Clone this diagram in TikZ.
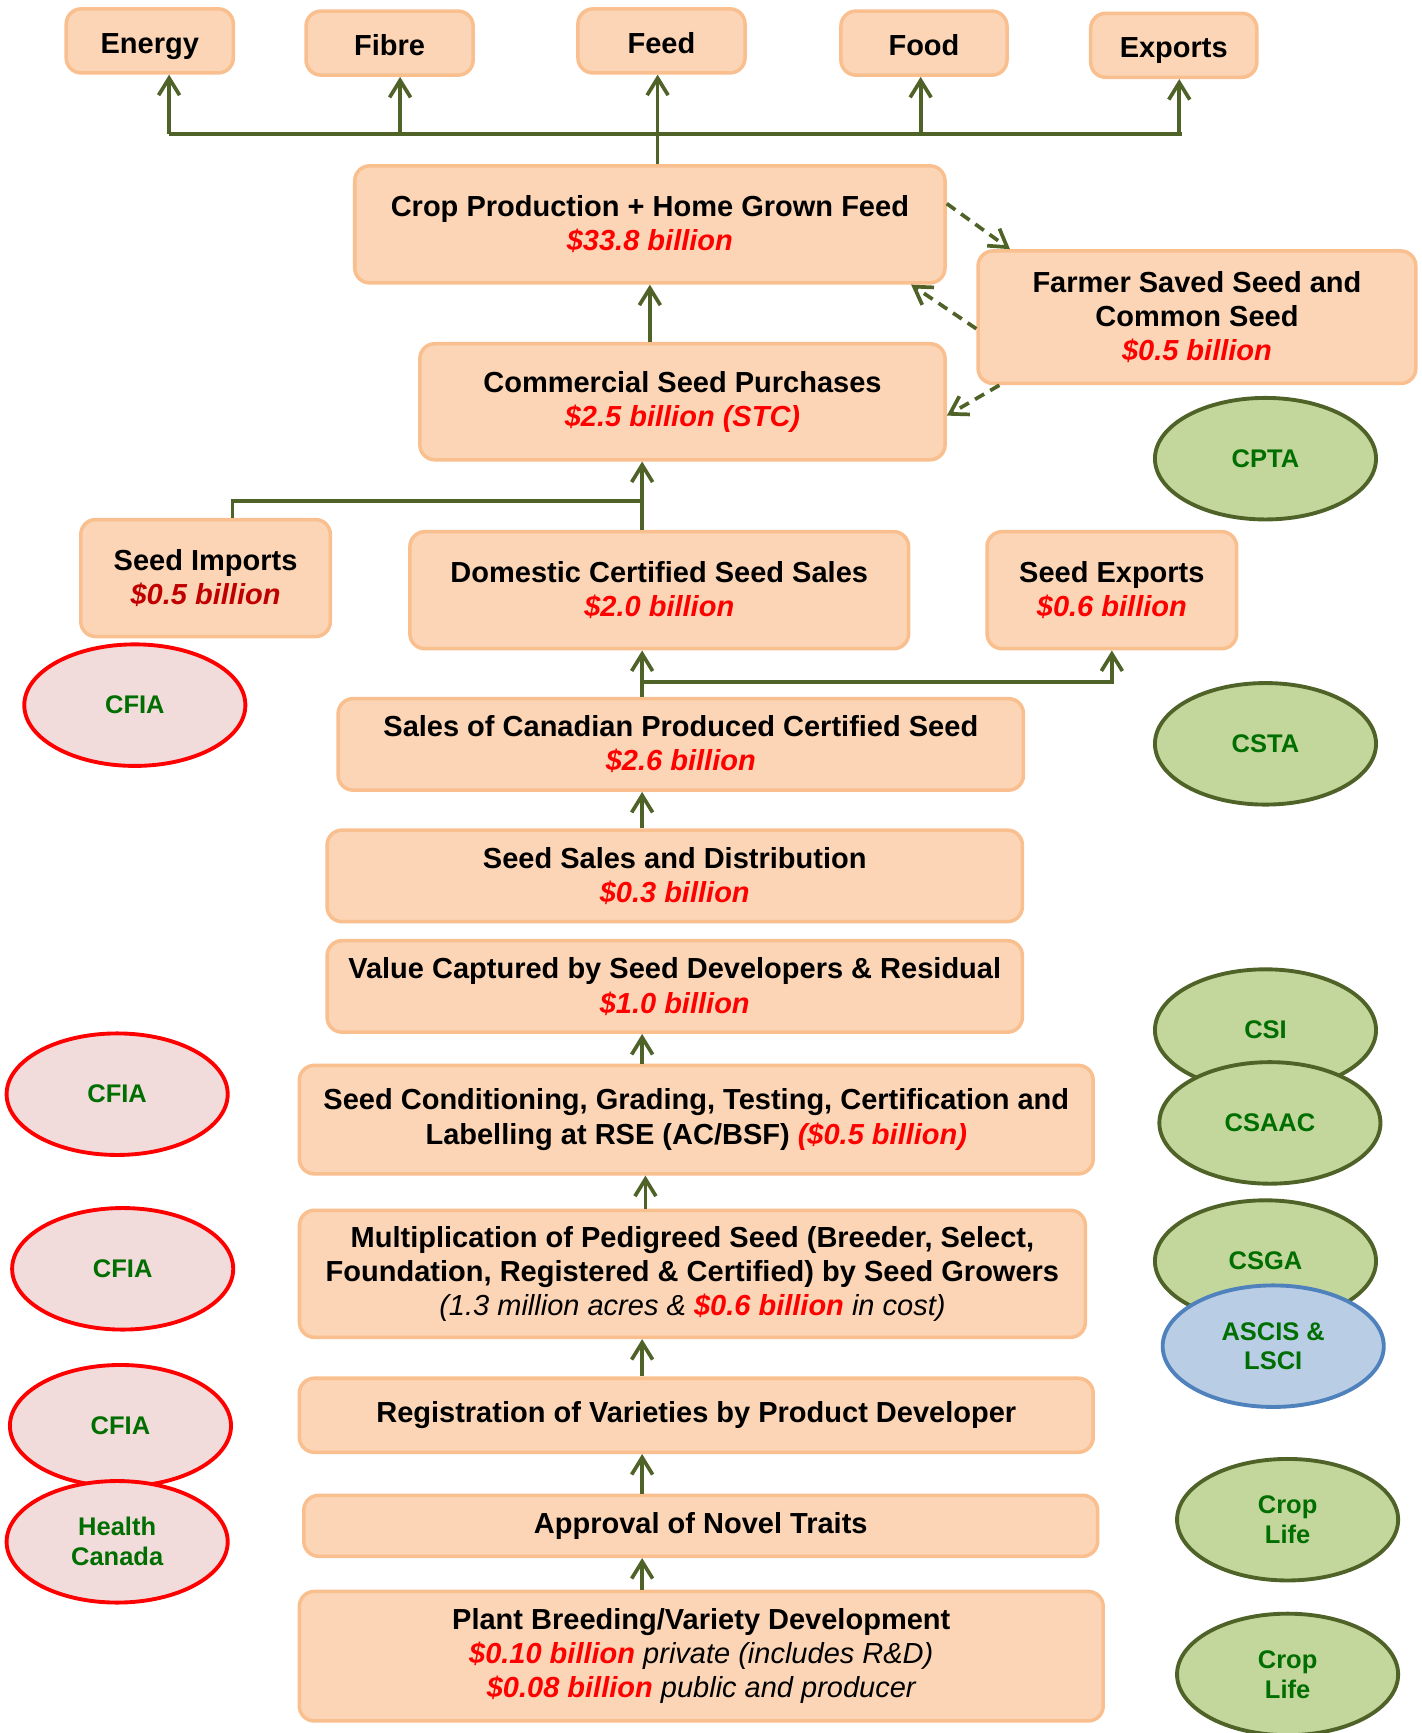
\documentclass[tikz,border=0pt]{standalone}
\usepackage{fontspec}
\setmainfont{Liberation Sans}
\usetikzlibrary{shapes.geometric,arrows.meta}
\definecolor{boxfill}{HTML}{FBD5B5}
\definecolor{boxline}{HTML}{F9BF8F}
\definecolor{arrowgreen}{HTML}{4F6228}
\definecolor{orgfill}{HTML}{C3D69B}
\definecolor{orgtext}{HTML}{006E00}
\definecolor{cfiafill}{HTML}{F2DCDB}
\definecolor{ascisfill}{HTML}{B9CDE5}
\definecolor{ascisline}{HTML}{4F81BD}
\definecolor{darkred}{HTML}{C00000}
\newcommand{\bil}[1]{\textcolor{red}{\itshape #1}}
\newcommand{\plain}[1]{{\mdseries\itshape #1}}

\begin{document}
\begin{tikzpicture}[x=0.0221cm, y=-0.0221cm,
    box/.style={draw=boxline, fill=boxfill, line width=2pt, rounded corners=0.3cm, align=center, inner sep=2pt, font=\fontsize{16.5}{19.5}\selectfont\bfseries},
    usebox/.style={box, minimum width=3.34cm, minimum height=1.28cm, text height=15pt, text depth=1pt},
    org/.style={ellipse, line width=2.2pt, minimum width=4.42cm, minimum height=2.43cm, inner sep=0pt, align=center, text=orgtext, font=\fontsize{14.5}{17}\selectfont\bfseries},
    greenorg/.style={org, draw=arrowgreen, fill=orgfill},
    cfia/.style={org, draw=red, fill=cfiafill},
    blueorg/.style={org, draw=ascisline, fill=ascisfill},
    link/.style={draw=arrowgreen, line width=2.1pt},
    arr/.style={link, -{Straight Barb[length=3.4mm,width=4.2mm]}},
    dasharr/.style={arr, dash pattern=on 6pt off 4pt}]
        \useasboundingbox (0,0) rectangle (1286,1568);

        % Uses
        \node (energy) [usebox] at (135.5,37) {Energy};
        \node (fibre) [usebox] at (352.5,39) {Fibre};
        \node (feed) [usebox] at (598.5,37) {Feed};
        \node (food) [usebox, minimum width=3.32cm] at (836,39) {Food};
        \node (exports) [usebox, minimum width=3.32cm] at (1062,41) {Exports};

        % Crop and seed purchases
        \node (crop) [box, minimum width=11.8cm, minimum height=2.34cm] at (588,203) {Crop Production + Home Grown Feed\\\bil{\$33.8 billion}};
        \node (commercial) [box, minimum width=10.5cm, minimum height=2.32cm] at (617.5,363.5) {Commercial Seed Purchases\\\bil{\$2.5 billion (STC)}};
        \node (farmer) [box, minimum width=8.75cm, minimum height=2.65cm] at (1083,287) {Farmer Saved Seed and\\Common Seed\\\bil{\$0.5 billion}};

        % Seed sales
        \node (imports) [box, minimum width=4.99cm, minimum height=2.34cm] at (186,523) {Seed Imports\\\textcolor{darkred}{\itshape \$0.5 billion}};
        \node (domestic) [box, minimum width=9.97cm, minimum height=2.34cm] at (596.5,534) {Domestic Certified Seed Sales\\\bil{\$2.0 billion}};
        \node (seedexp) [box, minimum width=4.99cm, minimum height=2.34cm] at (1006,534) {Seed Exports\\\bil{\$0.6 billion}};
        \node (sales) [box, minimum width=13.7cm, minimum height=1.83cm] at (616,673.5) {Sales of Canadian Produced Certified Seed\\\bil{\$2.6 billion}};
        \node (distrib) [box, minimum width=13.9cm, minimum height=1.83cm] at (610.5,792.5) {Seed Sales and Distribution\\\bil{\$0.3 billion}};
        \node (value) [box, minimum width=13.9cm, minimum height=1.83cm] at (610.5,892.5) {Value Captured by Seed Developers \& Residual\\\bil{\$1.0 billion}};

        % Seed production
        \node (conditioning) [box, minimum width=15.87cm, minimum height=2.17cm] at (630,1013) {Seed Conditioning, Grading, Testing, Certification and\\Labelling at RSE (AC/BSF) \bil{(\$0.5 billion)}};
        \node (multiplication) [box, minimum width=15.71cm, minimum height=2.54cm] at (626.5,1152.5) {Multiplication of Pedigreed Seed (Breeder, Select,\\Foundation, Registered \& Certified) by Seed Growers\\\plain{(1.3 million acres \& }\bil{\$0.6 billion}\plain{ in cost)}};
        \node (registration) [box, minimum width=15.87cm, minimum height=1.48cm] at (630,1280.5) {Registration of Varieties by Product Developer};
        \node (approval) [box, minimum width=15.87cm, minimum height=1.22cm] at (634,1380.5) {Approval of Novel Traits};
        \node (breeding) [box, minimum width=16.07cm, minimum height=2.59cm] at (634.5,1498.5) {Plant Breeding/Variety Development\\\bil{\$0.10 billion}\plain{ private (includes R\&D)}\\\bil{\$0.08 billion}\plain{ public and producer}};

        % Agencies and associations
        \node (cpta) [greenorg] at (1145,415) {CPTA};
        \node (csta) [greenorg] at (1145,673) {CSTA};
        \node (csi) [greenorg] at (1145,932) {CSI};
        \node (csaac) [greenorg] at (1149,1016) {CSAAC};
        \node (csga) [greenorg] at (1145,1141) {CSGA};
        \node (ascis) [blueorg] at (1152,1218) {ASCIS \&\\LSCI};
        \node (croplifeA) [greenorg] at (1165,1375) {Crop\\Life};
        \node (croplifeB) [greenorg] at (1165,1515) {Crop\\Life};
        \node (cfiaA) [cfia] at (122,638) {CFIA};
        \node (cfiaB) [cfia] at (106,990) {CFIA};
        \node (cfiaC) [cfia] at (111,1148) {CFIA};
        \node (cfiaD) [cfia] at (109,1290) {CFIA};
        \node (health) [cfia] at (106,1395) {Health\\Canada};

        % Junctions
        \coordinate (jE) at (153,121);
        \coordinate (jF) at (362,121);
        \coordinate (jD) at (833,121);
        \coordinate (jX) at (1069,121);
        \coordinate (jImp) at (581,453);
        \coordinate (jSal) at (581,617);
        \coordinate (spine) at (581,0);

        % Arrows
        \draw [link] (jE) -- (jX);
        \draw [arr] (jE) -- (jE |- energy.south);
        \draw [arr] (jF) -- (jF |- fibre.south);
        \draw [arr] (crop.north -| 595,0) -- (feed.south -| 595,0);
        \draw [arr] (jD) -- (jD |- food.south);
        \draw [arr] ([xshift=-0.044cm]jX) -- ([xshift=-0.044cm]jX |- exports.south);
        \draw [arr] (commercial.north -| crop.south) -- (crop.south);
        \draw [dasharr] (crop.4) -- (farmer.160);
        \draw [dasharr] (farmer.183) -- (crop.-13);
        \draw [dasharr] (farmer.199) -- (commercial.-3);
        \draw [link] (imports.66) |- (jImp);
        \draw [arr] (spine |- domestic.north) -- (spine |- commercial.south);
        \draw [arr] (spine |- sales.north) -- (spine |- domestic.south);
        \draw [arr] (jSal) -| (seedexp.south);
        \draw [arr] (spine |- distrib.north) -- (spine |- sales.south);
        \draw [arr] (spine |- conditioning.north) -- (spine |- value.south);
        \draw [arr] ([xshift=0.066cm]spine |- multiplication.north) -- ([xshift=0.066cm]spine |- conditioning.south);
        \draw [arr] (spine |- registration.north) -- (spine |- multiplication.south);
        \draw [arr] (spine |- approval.north) -- (spine |- registration.south);
        \draw [arr] (spine |- breeding.north) -- (spine |- approval.south);
    \end{tikzpicture}
\end{document}
